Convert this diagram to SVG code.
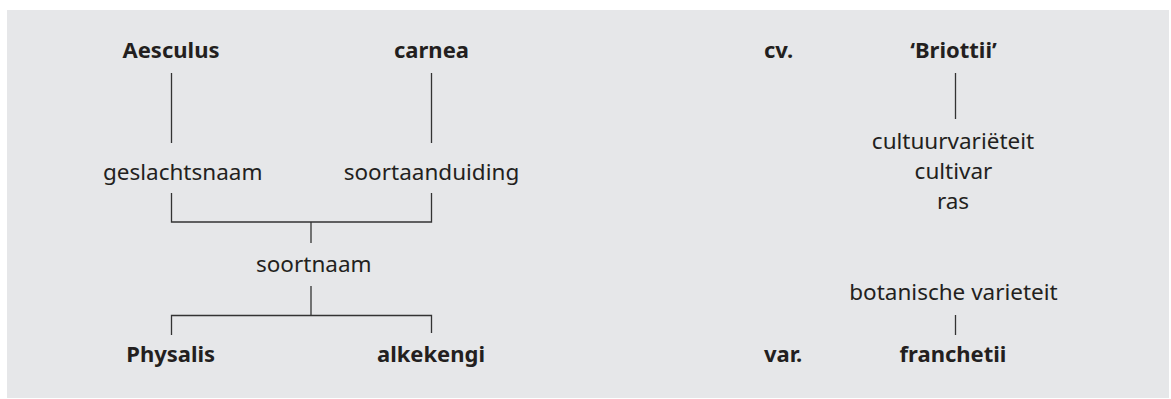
<svg xmlns="http://www.w3.org/2000/svg" width="1171" height="399" viewBox="0 0 1171 399">
<style>
.b{font-family:"Noto Sans","Liberation Sans",sans-serif;font-weight:bold;font-size:22px;fill:#231f20;text-anchor:middle}
.r{font-family:"Noto Sans","Liberation Sans",sans-serif;font-size:22.5px;fill:#231f20;text-anchor:middle}
.s{text-anchor:start}
.ln{fill:none;stroke:#333333;stroke-width:1.3}
</style>
<rect x="7" y="10" width="1162" height="388" fill="#e6e7e9"/>
<g id="connectors">
<path class="ln" d="M171.5 73V143"/>
<path class="ln" d="M431.5 73V143"/>
<path class="ln" d="M171.5 193V222H431.5V193"/>
<path class="ln" d="M311 222V243"/>
<path class="ln" d="M311 286V315.5"/>
<path class="ln" d="M171.5 335V315.5H431.5V333"/>
<path class="ln" d="M955.5 73V119"/>
<path class="ln" d="M955.5 315V335"/>
</g>
<g id="aesculus"><text class="b" x="171" y="58">Aesculus</text></g>
<g id="carnea"><text class="b" x="431.5" y="58">carnea</text></g>
<g id="cv"><text class="b s" x="764" y="58">cv.</text></g>
<g id="briottii"><text class="b" x="953.5" y="58">‘Briottii’</text></g>
<g id="geslachtsnaam"><text class="r" x="182.7" y="180">geslachtsnaam</text></g>
<g id="soortaanduiding"><text class="r" x="431.5" y="180">soortaanduiding</text></g>
<g id="soortnaam"><text class="r" x="313.8" y="271.5">soortnaam</text></g>
<g id="physalis"><text class="b" x="170.7" y="362">Physalis</text></g>
<g id="alkekengi"><text class="b" x="431" y="362">alkekengi</text></g>
<g id="cultivar"><text class="r" x="953" y="149">cultuurvariëteit</text><text class="r" x="953.5" y="179">cultivar</text><text class="r" x="953" y="209">ras</text></g>
<g id="botanische"><text class="r" x="953.5" y="300">botanische varieteit</text></g>
<g id="var"><text class="b s" x="764" y="362">var.</text></g>
<g id="franchetii"><text class="b" x="953" y="362">franchetii</text></g>
</svg>
